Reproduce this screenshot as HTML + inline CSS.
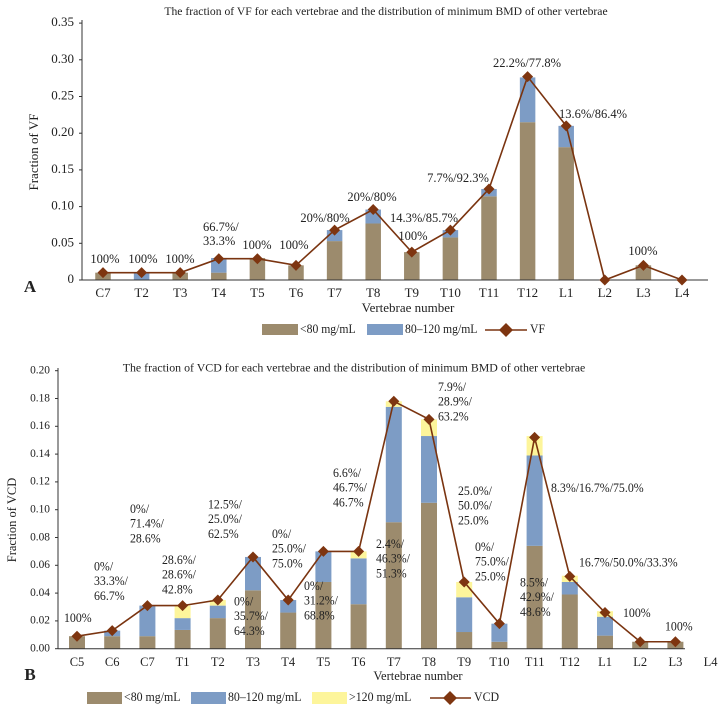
<!DOCTYPE html>
<html><head><meta charset="utf-8"><style>
html,body{margin:0;padding:0;background:#fff;}
svg{display:block;font-family:"Liberation Serif",serif;}
</style></head>
<body>
<svg id="chart" width="727" height="715" viewBox="0 0 727 715" xmlns="http://www.w3.org/2000/svg"></svg>
<script>
// ---------- Chart A data ----------
const catsA = ["C7","T2","T3","T4","T5","T6","T7","T8","T9","T10","T11","T12","L1","L2","L3","L4"];
const lowA  = [0.010,0.000,0.010,0.010,0.030,0.020,0.053,0.077,0.038,0.058,0.114,0.215,0.181,0,0.020,0];
const midA  = [0.000,0.010,0.000,0.020,0.000,0.000,0.015,0.019,0.000,0.010,0.010,0.061,0.029,0,0.000,0];
const vfA   = [0.010,0.010,0.010,0.029,0.029,0.020,0.068,0.096,0.038,0.068,0.124,0.277,0.210,0,0.020,0];
const ticksA = [0,0.05,0.10,0.15,0.20,0.25,0.30,0.35];
const tickLabelsA = ["0","0.05","0.10","0.15","0.20","0.25","0.30","0.35"];

// ---------- Chart B data ----------
const catsB = ["C5","C6","C7","T1","T2","T3","T4","T5","T6","T7","T8","T9","T10","T11","T12","L1","L2","L3","L4"];
const lowB  = [0.009,0.009,0.009,0.0135,0.022,0.042,0.026,0.048,0.032,0.091,0.105,0.012,0.005,0.074,0.039,0.0094,0.005,0.005,0];
const midB  = [0.000,0.004,0.022,0.0085,0.009,0.024,0.009,0.022,0.033,0.083,0.048,0.025,0.013,0.065,0.009,0.0136,0.000,0.000,0];
const highB = [0.000,0.000,0.000,0.009,0.004,0.000,0.000,0.000,0.005,0.004,0.012,0.011,0.000,0.014,0.0045,0.004,0.000,0.000,0];
const vcdB  = [0.009,0.013,0.031,0.031,0.035,0.066,0.035,0.070,0.070,0.178,0.165,0.048,0.018,0.152,0.052,0.026,0.005,0.005,null];
const ticksB = [0,0.02,0.04,0.06,0.08,0.10,0.12,0.14,0.16,0.18,0.20];
const tickLabelsB = ["0.00","0.02","0.04","0.06","0.08","0.10","0.12","0.14","0.16","0.18","0.20"];

const C_LOW="#9c8b6d", C_MID="#7d9cc5", C_HIGH="#fdf59b", C_LINE="#7a3410", C_MARK="#7e3510";
const NS="http://www.w3.org/2000/svg";
const svg=document.getElementById('chart');

function el(tag,attrs,parent){const e=document.createElementNS(NS,tag);for(const k in attrs)e.setAttribute(k,attrs[k]);(parent||svg).appendChild(e);return e;}
function txt(parent,x,y,s,size,anchor,sx,weight){
  const t=el('text',{transform:`translate(${x},${y}) scale(${sx||1},1)`,'font-size':size,'text-anchor':anchor||'start','dominant-baseline':'middle',fill:'#222'},parent);
  if(weight)t.setAttribute('font-weight',weight);
  t.textContent=s;return t;
}
function diamond(parent,cx,cy,r){return el('polygon',{points:`${cx},${cy-r} ${cx+r},${cy} ${cx},${cy+r} ${cx-r},${cy}`,fill:C_MARK},parent);}

// ================= CHART A =================
const gA=el('g',{});


const xA=i=>103+i*38.6, yA=v=>280-v*734;
let t=txt(gA,386,12,"The fraction of VF for each vertebrae and the distribution of minimum BMD of other vertebrae",12,'middle',0.97);

catsA.forEach((c,i)=>{
  const w=15.5;
  if(lowA[i]>0){const r=el('rect',{x:xA(i)-w/2,y:yA(lowA[i]),width:w,height:lowA[i]*734,fill:C_LOW},gA);
    }
  if(midA[i]>0){const r=el('rect',{x:xA(i)-w/2,y:yA(lowA[i]+midA[i]),width:w,height:midA[i]*734,fill:C_MID},gA);
    }
});
let ax=el('line',{x1:82,y1:20,x2:82,y2:280,stroke:'#333','stroke-width':1},gA);

ax=el('line',{x1:82,y1:280,x2:708,y2:280,stroke:'#333','stroke-width':1},gA);

ticksA.forEach((v,i)=>{
  el('line',{x1:79,y1:yA(v),x2:82,y2:yA(v),stroke:'#333'},gA);
  const l=txt(gA,74,yA(v),tickLabelsA[i],13,'end',1);
  
});
catsA.forEach((c,i)=>{const l=txt(gA,xA(i),294,c,13,'middle',1);
  });
let pts=vfA.map((v,i)=>`${xA(i)},${yA(v)}`).join(' ');
let pl=el('polyline',{points:pts,fill:'none',stroke:C_LINE,'stroke-width':1.6},gA);

vfA.forEach((v,i)=>{const d=diamond(gA,xA(i),yA(v),5.5);
  });
const annA=[[105,260,"100%",'middle'],[143,260,"100%",'middle'],[180,260,"100%",'middle'],
 [203,228,"66.7%/",'start'],[203,242,"33.3%",'start'],[257,246,"100%",'middle'],[294,246,"100%",'middle'],
 [325,219,"20%/80%",'middle'],[372,198,"20%/80%",'middle'],[424,219,"14.3%/85.7%",'middle'],[413,237,"100%",'middle'],
 [458,179,"7.7%/92.3%",'middle'],[527,64,"22.2%/77.8%",'middle'],[593,115,"13.6%/86.4%",'middle'],[643,252,"100%",'middle']];
annA.forEach(a=>{const l=txt(gA,a[0],a[1],a[2],12.5,a[3],1);
  });
t=el('text',{transform:'translate(35,152) rotate(-90)','font-size':13,'text-anchor':'middle','dominant-baseline':'middle',fill:'#222'},gA);
t.textContent="Fraction of VF";
t=txt(gA,408,309,"Vertebrae number",13,'middle',1);
t=txt(gA,30,288,"A",17,'middle',1,'bold');
let lg=el('g',{},gA);
el('rect',{x:262,y:324,width:36,height:11,fill:C_LOW},lg);
txt(lg,300,330,"<80 mg/mL",13,'start',0.9);
el('rect',{x:367,y:324,width:36,height:11,fill:C_MID},lg);
txt(lg,405,330,"80–120 mg/mL",13,'start',0.9);
el('line',{x1:485,y1:330,x2:527,y2:330,stroke:C_LINE,'stroke-width':1.6},lg);
diamond(lg,506,330,7);
txt(lg,530,330,"VF",13,'start',0.9);

// ================= CHART B =================
const gB=el('g',{});


const SB=1390, xB=i=>77+i*35.2, yB=v=>648.7-v*SB;
t=txt(gB,354,369,"The fraction of VCD for each vertebrae and the distribution of minimum BMD of other vertebrae",12,'middle',0.99);

catsB.forEach((c,i)=>{
  const w=16;let base=0;
  [[lowB,C_LOW,'low'],[midB,C_MID,'mid'],[highB,C_HIGH,'high']].forEach(([arr,col,nm])=>{
    const v=arr[i];
    if(v>0){const r=el('rect',{x:xB(i)-w/2,y:yB(base+v),width:w,height:v*SB,fill:col},gB);
      }
    base+=v;
  });
});
ax=el('line',{x1:58,y1:368,x2:58,y2:648.7,stroke:'#333'},gB);

ax=el('line',{x1:58,y1:648.7,x2:685,y2:648.7,stroke:'#333'},gB);

ticksB.forEach((v,i)=>{
  el('line',{x1:55,y1:yB(v),x2:58,y2:yB(v),stroke:'#333'},gB);
  const l=txt(gB,50,yB(v),tickLabelsB[i],12,'end',0.95);
  
});
catsB.forEach((c,i)=>{const l=txt(gB,xB(i),663,c,12.5,'middle',1);
  });
const vpts=[];vcdB.forEach((v,i)=>{if(v!==null)vpts.push(`${xB(i)},${yB(v)}`);});
pl=el('polyline',{points:vpts.join(' '),fill:'none',stroke:C_LINE,'stroke-width':1.6},gB);

vcdB.forEach((v,i)=>{if(v===null)return;const d=diamond(gB,xB(i),yB(v),5.5);
  });
const annB=[[64,619,["100%"]],[94,567.5,["0%/","33.3%/","66.7%"]],[130,510,["0%/","71.4%/","28.6%"]],
 [162,561,["28.6%/","28.6%/","42.8%"]],[208,505.5,["12.5%/","25.0%/","62.5%"]],[234,602.5,["0%/","35.7%/","64.3%"]],
 [272,535,["0%/","25.0%/","75.0%"]],[304,587,["0%/","31.2%/","68.8%"]],[333,474,["6.6%/","46.7%/","46.7%"]],
 [376,545,["2.4%/","46.3%/","51.3%"]],[438,388,["7.9%/","28.9%/","63.2%"]],[458,492,["25.0%/","50.0%/","25.0%"]],
 [475,548,["0%/","75.0%/","25.0%"]],[520,583.5,["8.5%/","42.9%/","48.6%"]],[551,489,["8.3%/16.7%/75.0%"]],
 [579,563.5,["16.7%/50.0%/33.3%"]],[623,614,["100%"]],[665,627.5,["100%"]]];
annB.forEach(a=>{a[2].forEach((s,k)=>{const l=txt(gB,a[0],a[1]+k*14.8,s,12.5,'start',0.95);
  });});
t=el('text',{transform:'translate(13,520) rotate(-90)','font-size':12.5,'text-anchor':'middle','dominant-baseline':'middle',fill:'#222'},gB);
t.textContent="Fraction of VCD";
t=txt(gB,418,677,"Vertebrae number",12.5,'middle',1);
t=txt(gB,30,676,"B",17,'middle',1,'bold');
lg=el('g',{},gB);
el('rect',{x:87,y:692,width:35,height:12,fill:C_LOW},lg);
txt(lg,124,698,"<80 mg/mL",12.5,'start',0.95);
el('rect',{x:191,y:692,width:35,height:12,fill:C_MID},lg);
txt(lg,228,698,"80–120 mg/mL",12.5,'start',0.95);
el('rect',{x:312,y:692,width:35,height:12,fill:C_HIGH},lg);
txt(lg,349,698,">120 mg/mL",12.5,'start',0.95);
el('line',{x1:430,y1:698,x2:471,y2:698,stroke:C_LINE,'stroke-width':1.6},lg);
diamond(lg,450,698,7);
txt(lg,474,698,"VCD",12.5,'start',0.95);
</script>
</body></html>
